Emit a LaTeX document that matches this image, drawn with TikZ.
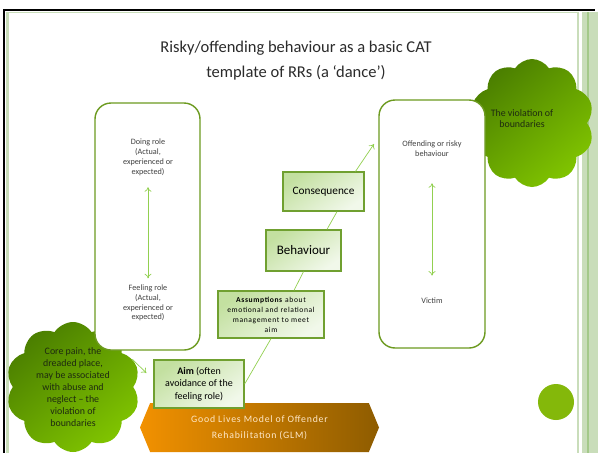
\documentclass[tikz,border=0pt]{standalone}
\usepackage{fontspec}
\setmainfont{Carlito}
\newfontfamily\widefont[LetterSpace=8]{Carlito}
\usetikzlibrary{shapes.symbols,arrows.meta}

\definecolor{roleedge}{HTML}{6C9A1F}
\definecolor{darktext}{HTML}{404040}
\definecolor{stageedge}{HTML}{70A030}
\definecolor{stagedark}{HTML}{C3E0A0}
\definecolor{stagelight}{HTML}{F1F8EA}
\definecolor{linkgreen}{HTML}{92D050}
\definecolor{blobdark}{HTML}{4B7F00}
\definecolor{bloblight}{HTML}{80C400}
\definecolor{cloudtext}{HTML}{1E2A10}
\definecolor{glmlight}{HTML}{F29100}
\definecolor{glmdark}{HTML}{8E5C00}
\definecolor{glmtext}{HTML}{FFE8C8}
\definecolor{dotgreen}{HTML}{84B80A}
\definecolor{stripelight}{HTML}{C9DDBA}
\definecolor{stripemid}{HTML}{A4C98A}
\definecolor{titlegray}{HTML}{2B2B2B}

\begin{document}
\begin{tikzpicture}[x=1pt, y=-1pt, >={To[length=4.5pt,width=7pt]},
        rolebox/.style={draw=roleedge, line width=1.4pt, fill=white, rounded corners=16pt},
        roletext/.style={text=darktext, font=\fontsize{8.2}{9.8}\selectfont, align=center},
        stagebox/.style={draw=stageedge, line width=1.3pt, top color=stagedark,
            bottom color=stagelight, shading angle=35, align=center, text=black},
        link/.style={draw=linkgreen, line width=.7pt},
        blob/.style={cloud, cloud puffs=10, cloud puff arc=115, cloud ignores aspect,
            top color=blobdark, bottom color=bloblight, shading angle=40, inner sep=0pt}]
        \useasboundingbox [fill=white] (0, 0) rectangle (598, 453);
        % frame and side stripes
        \foreach \x/\w/\c in {577/2/stripelight, 582/5/stripelight, 587/2/stripemid, 589/9/stripelight} {
            \fill [\c] (\x, 12) rectangle ++(\w, 441);
        }
        \fill [stripelight] (6, 12) rectangle (9, 453);
        \draw [stripelight, line width=.6] (9, 12.5) -- (577, 12.5);
        % clouds
        \node [blob, minimum width=134, minimum height=130] (hurtcloud) at (73, 387) {};
        \node [blob, minimum width=124, minimum height=128] (edgecloud) at (532, 123) {};
        \node [text=cloudtext, align=center, font=\fontsize{9.9}{12}\selectfont]
            (hurttext) at (hurtcloud) {Core pain, the\\dreaded place,\\may be associated\\with abuse and\\neglect – the\\violation of\\boundaries};
        \node [text=cloudtext, align=center, font=\fontsize{9.9}{11}\selectfont]
            (edgetext) at ([xshift=-10pt, yshift=4.5pt]edgecloud.center) {The violation of\\boundaries};
        \draw [black, line width=2] (4, 453) -- (4, 10) -- (595, 10);
        % title
        \node [font=\fontsize{16.5}{25}\selectfont, align=center, text=titlegray] (title)
            at (296, 61) {Risky/offending behaviour as a basic CAT\\template of RRs (a ‘dance’)};
        % role boxes
        \node [rolebox, minimum width=105, minimum height=247] (selfbox) at (147.5, 226.5) {};
        \node [rolebox, minimum width=106, minimum height=248] (otherbox) at (432, 224) {};
        \node [roletext] (doing) at (148, 157.5) {Doing role\\(Actual,\\experienced or\\expected)};
        \node [roletext] (feeling) at (148, 303) {Feeling role\\(Actual,\\experienced or\\expected)};
        \node [roletext] (offending) at (432, 149) {Offending or risky\\behaviour};
        \node [roletext] (victim) at (432, 301) {Victim};
        \draw [link, <->, shorten <=8, shorten >=3] (doing) -- (feeling);
        \draw [link, <->, shorten <=23, shorten >=19] (offending) -- (victim);
        % GLM banner
        \node [signal, signal to=west and east, signal pointer angle=135,
            minimum width=239, minimum height=49, inner sep=0pt,
            left color=glmlight, right color=glmdark, text=glmtext, align=center,
            font=\widefont\fontsize{9.8}{16}\selectfont] (glm) at (259.5, 427.5)
            {Good Lives Model of Offender\\Rehabilitation (GLM)};
        % steps of the dance
        \node [stagebox, minimum width=90, minimum height=48, font=\fontsize{10}{12.5}\selectfont]
            (aim) at (199, 384) {\textbf{Aim} (often\\avoidance of the\\feeling role)};
        \node [stagebox, minimum width=106, minimum height=47, inner sep=1pt, font=\widefont\fontsize{7.6}{10}\selectfont]
            (assume) at (271, 314.5) {\textbf{Assumptions} about\\emotional and relational\\management to meet\\aim};
        \node [stagebox, minimum width=75, minimum height=41, font=\fontsize{13}{15}\selectfont]
            (behave) at (303.5, 250.5) {Behaviour};
        \node [stagebox, minimum width=81, minimum height=39, font=\fontsize{11.3}{13}\selectfont]
            (conseq) at (323.5, 191.5) {Consequence};
        \coordinate (reach) at (374, 144);
        \draw [link] (aim.east) -- (assume.south);
        \draw [link] ([xshift=23pt]assume.north) -- (behave.south);
        \draw [link] ([xshift=23.5pt]behave.north) -- ([xshift=13.5pt]conseq.south);
        \draw [link, ->] ([xshift=32pt]conseq.north) -- (reach);
        \draw [link, ->] (hurtcloud.25) -- ([xshift=-7pt, yshift=11pt]aim.west);
        \node [circle, fill=dotgreen, minimum size=36, inner sep=0pt] (dot) at (556, 402) {};
    \end{tikzpicture}
\end{document}
